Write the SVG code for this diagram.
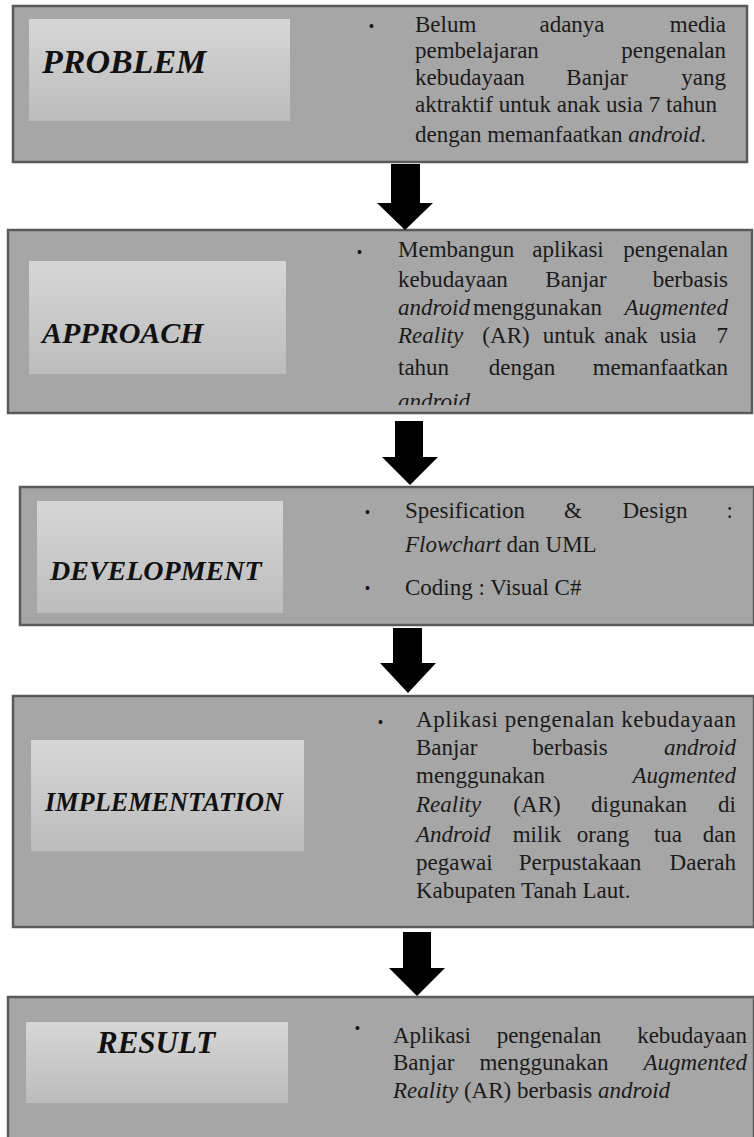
<svg xmlns="http://www.w3.org/2000/svg" width="754" height="1137" viewBox="0 0 754 1137">
<style>
.box{fill:#a6a6a6;stroke:#5a5a5a;stroke-width:2.5}
.inner{fill:url(#ig)}
.lbl{font-family:"Liberation Serif",serif;font-weight:bold;font-style:italic;fill:#111}
.t{font-family:"Liberation Serif",serif;font-size:23px;fill:#1a1a1a}
.i{font-style:italic}
.bul{font-family:"Liberation Sans",sans-serif;font-size:14px;fill:#111}
.arr{fill:#000}
.s{text-anchor:start}.m{text-anchor:middle}.e{text-anchor:end}
</style>
<defs>
<linearGradient id="ig" x1="0" y1="0" x2="0" y2="1">
<stop offset="0" stop-color="#d6d6d6"/>
<stop offset="1" stop-color="#bcbcbc"/>
</linearGradient>
<clipPath id="c2"><rect x="0" y="230" width="754" height="175"/></clipPath>
</defs>
<rect width="754" height="1137" fill="#ffffff"/>

<g id="problem">
<rect class="box" x="13" y="6" width="734" height="156"/>
<rect class="inner" x="29" y="19" width="261" height="102"/>
<text class="lbl" x="42" y="73" font-size="34">PROBLEM</text>
<text class="bul" x="369" y="31">•</text>
<text class="t" y="32"><tspan class="s" x="415">Belum</tspan><tspan class="m" x="572">adanya</tspan><tspan class="e" x="726">media</tspan></text>
<text class="t" y="58"><tspan class="s" x="415">pembelajaran</tspan><tspan class="e" x="726">pengenalan</tspan></text>
<text class="t" y="85"><tspan class="s" x="415">kebudayaan</tspan><tspan class="m" x="597">Banjar</tspan><tspan class="e" x="726">yang</tspan></text>
<text class="t" x="415" y="112">aktraktif untuk anak usia 7 tahun</text>
<text class="t" x="415" y="142">dengan memanfaatkan <tspan class="i">android</tspan>.</text>
</g>

<g id="approach">
<rect class="box" x="8" y="230" width="744" height="183"/>
<rect class="inner" x="29" y="261" width="257" height="113"/>
<text class="lbl" x="42" y="343" font-size="30">APPROACH</text>
<text class="bul" x="357" y="257">•</text>
<g clip-path="url(#c2)">
<text class="t" y="257"><tspan class="s" x="398">Membangun</tspan><tspan class="m" x="568">aplikasi</tspan><tspan class="e" x="728">pengenalan</tspan></text>
<text class="t" y="287"><tspan class="s" x="398">kebudayaan</tspan><tspan class="m" x="576">Banjar</tspan><tspan class="e" x="728">berbasis</tspan></text>
<text class="t" y="315"><tspan class="s i" x="398">android</tspan><tspan class="s" x="473">menggunakan</tspan><tspan class="e i" x="728">Augmented</tspan></text>
<text class="t" y="343"><tspan class="s i" x="398">Reality</tspan><tspan class="m" x="506">(AR)</tspan><tspan class="m" x="569">untuk</tspan><tspan class="m" x="626">anak</tspan><tspan class="m" x="678">usia</tspan><tspan class="e" x="728">7</tspan></text>
<text class="t" y="375"><tspan class="s" x="398">tahun</tspan><tspan class="m" x="522">dengan</tspan><tspan class="e" x="728">memanfaatkan</tspan></text>
<text class="t i" x="398" y="409">android</text>
</g>
</g>

<g id="development">
<rect class="box" x="20" y="487" width="734" height="138"/>
<rect class="inner" x="37" y="501" width="246" height="112"/>
<text class="lbl" x="50" y="580" font-size="28">DEVELOPMENT</text>
<text class="bul" x="365" y="517">•</text>
<text class="bul" x="365" y="593">•</text>
<text class="t" y="518"><tspan class="s" x="405">Spesification</tspan><tspan class="m" x="573">&amp;</tspan><tspan class="m" x="655">Design</tspan><tspan class="e" x="733">:</tspan></text>
<text class="t" x="405" y="552"><tspan class="i">Flowchart</tspan> dan UML</text>
<text class="t" x="405" y="595">Coding : Visual C#</text>
</g>

<g id="implementation">
<rect class="box" x="13" y="696" width="741" height="231"/>
<rect class="inner" x="31" y="740" width="273" height="111"/>
<text class="lbl" x="45" y="811" font-size="28" textLength="238" lengthAdjust="spacingAndGlyphs">IMPLEMENTATION</text>
<text class="bul" x="378" y="727">•</text>
<text class="t" x="416" y="727" textLength="320" lengthAdjust="spacing">Aplikasi pengenalan kebudayaan</text>
<text class="t" y="755"><tspan class="s" x="416">Banjar</tspan><tspan class="m" x="570">berbasis</tspan><tspan class="e i" x="736">android</tspan></text>
<text class="t" y="783"><tspan class="s" x="416">menggunakan</tspan><tspan class="e i" x="736">Augmented</tspan></text>
<text class="t" y="812"><tspan class="s i" x="416">Reality</tspan><tspan class="m" x="537">(AR)</tspan><tspan class="m" x="639">digunakan</tspan><tspan class="e" x="736">di</tspan></text>
<text class="t" y="842"><tspan class="s i" x="416">Android</tspan><tspan class="m" x="537">milik</tspan><tspan class="m" x="603">orang</tspan><tspan class="m" x="668">tua</tspan><tspan class="e" x="736">dan</tspan></text>
<text class="t" y="870"><tspan class="s" x="416">pegawai</tspan><tspan class="m" x="580">Perpustakaan</tspan><tspan class="e" x="736">Daerah</tspan></text>
<text class="t" x="416" y="898">Kabupaten Tanah Laut.</text>
</g>

<g id="result">
<rect class="box" x="8" y="997" width="746" height="145"/>
<rect class="inner" x="26" y="1022" width="262" height="81"/>
<text class="lbl" x="97" y="1053" font-size="31">RESULT</text>
<text class="bul" x="355" y="1033">•</text>
<text class="t" y="1043"><tspan class="s" x="393">Aplikasi</tspan><tspan class="m" x="549">pengenalan</tspan><tspan class="e" x="747">kebudayaan</tspan></text>
<text class="t" y="1070"><tspan class="s" x="393">Banjar</tspan><tspan class="m" x="544">menggunakan</tspan><tspan class="e i" x="747">Augmented</tspan></text>
<text class="t" x="393" y="1098"><tspan class="i">Reality</tspan> (AR) berbasis <tspan class="i">android</tspan></text>
</g>

<g id="connectors">
<polygon class="arr" points="391,164 420,164 420,203 433,203 405,230 377,203 391,203"/>
<polygon class="arr" points="395,421 423,421 423,457 438,457 410,485 382,457 395,457"/>
<polygon class="arr" points="393,628 422,628 422,663 436,663 408,693 380,663 393,663"/>
<polygon class="arr" points="403,932 431,932 431,968 445,968 417,996 389,968 403,968"/>
</g>
</svg>
